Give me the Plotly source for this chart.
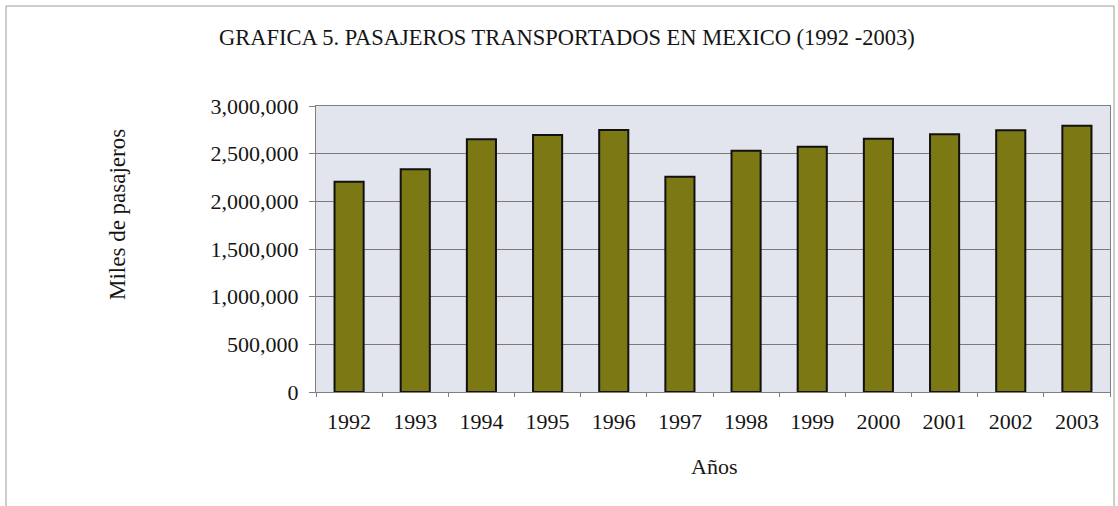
import plotly.graph_objects as go

years = ["1992", "1993", "1994", "1995", "1996", "1997", "1998", "1999", "2000", "2001", "2002", "2003"]
pasajeros = [2206000, 2336000, 2651000, 2696000, 2748000, 2258000, 2531000, 2573000, 2657000, 2703000, 2745000, 2793000]
y_ticks = [0, 500000, 1000000, 1500000, 2000000, 2500000, 3000000]

W, H = 1118, 506
L, R, T, B = 316, 8, 106, 114
PW, PH = W - L - R, H - T - B


def px(x):
    return (x - L) / PW


def py(y):
    return (H - B - y) / PH


FONT = "Liberation Serif, Times New Roman, serif"
INK = "#151515"

fig = go.Figure()
fig.add_trace(go.Bar(
    x=years, y=pasajeros,
    marker=dict(color="#7c7814", line=dict(color="#111111", width=2)),
    hoverinfo="x+y",
))

fig.update_layout(
    width=W, height=H,
    margin=dict(l=L, r=R, t=T, b=B),
    paper_bgcolor="white",
    plot_bgcolor="#e2e5ed",
    bargap=0.56,
    showlegend=False,
    font=dict(family=FONT, size=22, color=INK),
    xaxis=dict(
        type="category",
        showgrid=False,
        ticks="outside", tickson="boundaries", ticklen=4, tickcolor="#808080",
        showline=True, linecolor="#808080", linewidth=1, mirror=True,
        ticklabelstandoff=10,
        tickfont=dict(family=FONT, size=22, color=INK),
    ),
    yaxis=dict(
        range=[0, 3000000],
        tickvals=y_ticks,
        tickformat=",",
        showgrid=True, gridcolor="#7a7a7a", gridwidth=1,
        ticks="outside", ticklen=6, tickcolor="#808080",
        showline=True, linecolor="#808080", linewidth=1, mirror=True,
        zeroline=False,
        ticklabelstandoff=6,
        tickfont=dict(family=FONT, size=22, color=INK),
    ),
    annotations=[
        dict(text="GRAFICA 5. PASAJEROS TRANSPORTADOS EN MEXICO (1992 -2003)",
             xref="paper", yref="paper", x=px(567), y=py(37),
             xanchor="center", yanchor="middle", showarrow=False,
             font=dict(family=FONT, size=22.5, color=INK)),
        dict(text="Miles de pasajeros",
             xref="paper", yref="paper", x=px(117), y=py(214),
             xanchor="center", yanchor="middle", showarrow=False, textangle=-90,
             font=dict(family=FONT, size=23, color=INK)),
        dict(text="Años",
             xref="paper", yref="paper", x=px(714), y=py(466),
             xanchor="center", yanchor="middle", showarrow=False,
             font=dict(family=FONT, size=22, color=INK)),
    ],
    shapes=[
        dict(type="rect", xref="paper", yref="paper",
             x0=px(6), x1=px(1114), y0=py(520), y1=py(6),
             line=dict(color="#9a9a9a", width=1), fillcolor="rgba(0,0,0,0)", layer="below"),
    ],
)

fig.write_html("out.html")
